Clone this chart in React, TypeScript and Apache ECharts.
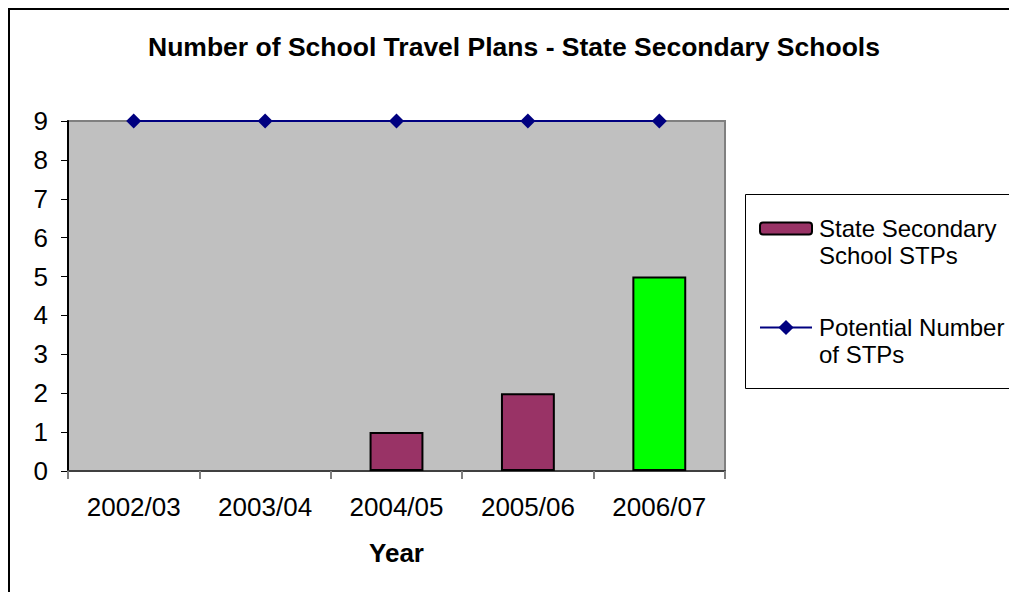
import React, { useEffect, useRef } from "react";
import * as echarts from "echarts";

const categories = ["2002/03", "2003/04", "2004/05", "2005/06", "2006/07"];
const stpValues: (number | null)[] = [null, null, 1, 2, 5];
const potentialValues = [9, 9, 9, 9, 9];
const barColors = ["#993366", "#993366", "#993366", "#993366", "#00FF00"];
const seriesNames = ["State Secondary School STPs", "Potential Number of STPs"];
const legendLabels: Record<string, string> = {
  "State Secondary School STPs": "\nState Secondary\nSchool STPs",
  "Potential Number of STPs": "\nPotential Number\nof STPs",
};

const FONT = "Arial, 'Liberation Sans', sans-serif";

export default function App() {
  const ref = useRef<HTMLDivElement>(null);
  useEffect(() => {
    if (!ref.current) return;
    const chart = echarts.init(ref.current, undefined, { renderer: "svg" });
    const legendText = {
      fontSize: 24,
      fontFamily: FONT,
      color: "#000",
      lineHeight: 27,
      padding: [0, 0, 0, 2],
    };
    chart.setOption({
      animation: false,
      backgroundColor: "#fff",
      title: {
        text: "Number of School Travel Plans - State Secondary Schools",
        left: 509,
        textAlign: "center",
        top: 28,
        textStyle: { fontSize: 26.5, fontWeight: "bold", fontFamily: FONT, color: "#000" },
      },
      graphic: [
        { type: "line", shape: { x1: 9, y1: 8, x2: 9, y2: 600 }, style: { stroke: "#000", lineWidth: 2 } },
        { type: "line", shape: { x1: 8, y1: 9, x2: 1020, y2: 9 }, style: { stroke: "#000", lineWidth: 2 } },
        {
          type: "rect",
          z: -1,
          shape: { x: 745.5, y: 194.5, width: 320, height: 194 },
          style: { fill: "#fff", stroke: "#000", lineWidth: 1 },
        },
      ],
      legend: [
        {
          data: [seriesNames[0]],
          left: 759,
          top: 188,
          padding: 0,
          itemWidth: 52,
          itemHeight: 12,
          formatter: (n: string) => legendLabels[n] || n,
          textStyle: legendText,
        },
        {
          data: [seriesNames[1]],
          left: 759,
          top: 287,
          padding: 0,
          itemWidth: 52,
          itemHeight: 19,
          formatter: (n: string) => legendLabels[n] || n,
          textStyle: legendText,
        },
      ],
      grid: {
        left: 68,
        right: 284,
        top: 121,
        bottom: 121,
        show: true,
        backgroundColor: "#C0C0C0",
        borderColor: "#808080",
        borderWidth: 2,
      },
      xAxis: {
        type: "category",
        data: categories,
        name: "Year",
        nameLocation: "middle",
        nameGap: 69,
        nameTextStyle: { fontSize: 26, fontWeight: "bold", fontFamily: FONT, color: "#000" },
        axisLine: { show: true, lineStyle: { color: "#404040", width: 2 } },
        axisTick: { show: true, length: 8, lineStyle: { color: "#808080", width: 2 } },
        axisLabel: { fontSize: 26, fontFamily: FONT, color: "#000", margin: 23 },
        splitLine: { show: false },
      },
      yAxis: {
        type: "value",
        min: 0,
        max: 9,
        interval: 1,
        axisLine: { show: true, lineStyle: { color: "#000", width: 2 } },
        axisTick: { show: true, length: 7, lineStyle: { color: "#000", width: 1 } },
        axisLabel: { fontSize: 26, fontFamily: FONT, color: "#000", margin: 20 },
        splitLine: { show: false },
      },
      series: [
        {
          name: seriesNames[0],
          type: "bar",
          barWidth: "41%",
          data: stpValues.map((v, i) => ({
            value: v,
            itemStyle: { color: barColors[i], borderColor: "#000", borderWidth: 2 },
          })),
          itemStyle: { color: "#993366", borderColor: "#000", borderWidth: 2 },
        },
        {
          name: seriesNames[1],
          type: "line",
          data: potentialValues,
          symbol: "diamond",
          symbolSize: 15,
          lineStyle: { color: "#000080", width: 2 },
          itemStyle: { color: "#000080" },
          z: 5,
        },
      ],
    });
    return () => chart.dispose();
  }, []);
  return (
    <div
      ref={ref}
      style={{ position: "fixed", left: 0, top: 0, width: 1009, height: 592, overflow: "hidden" }}
    />
  );
}
